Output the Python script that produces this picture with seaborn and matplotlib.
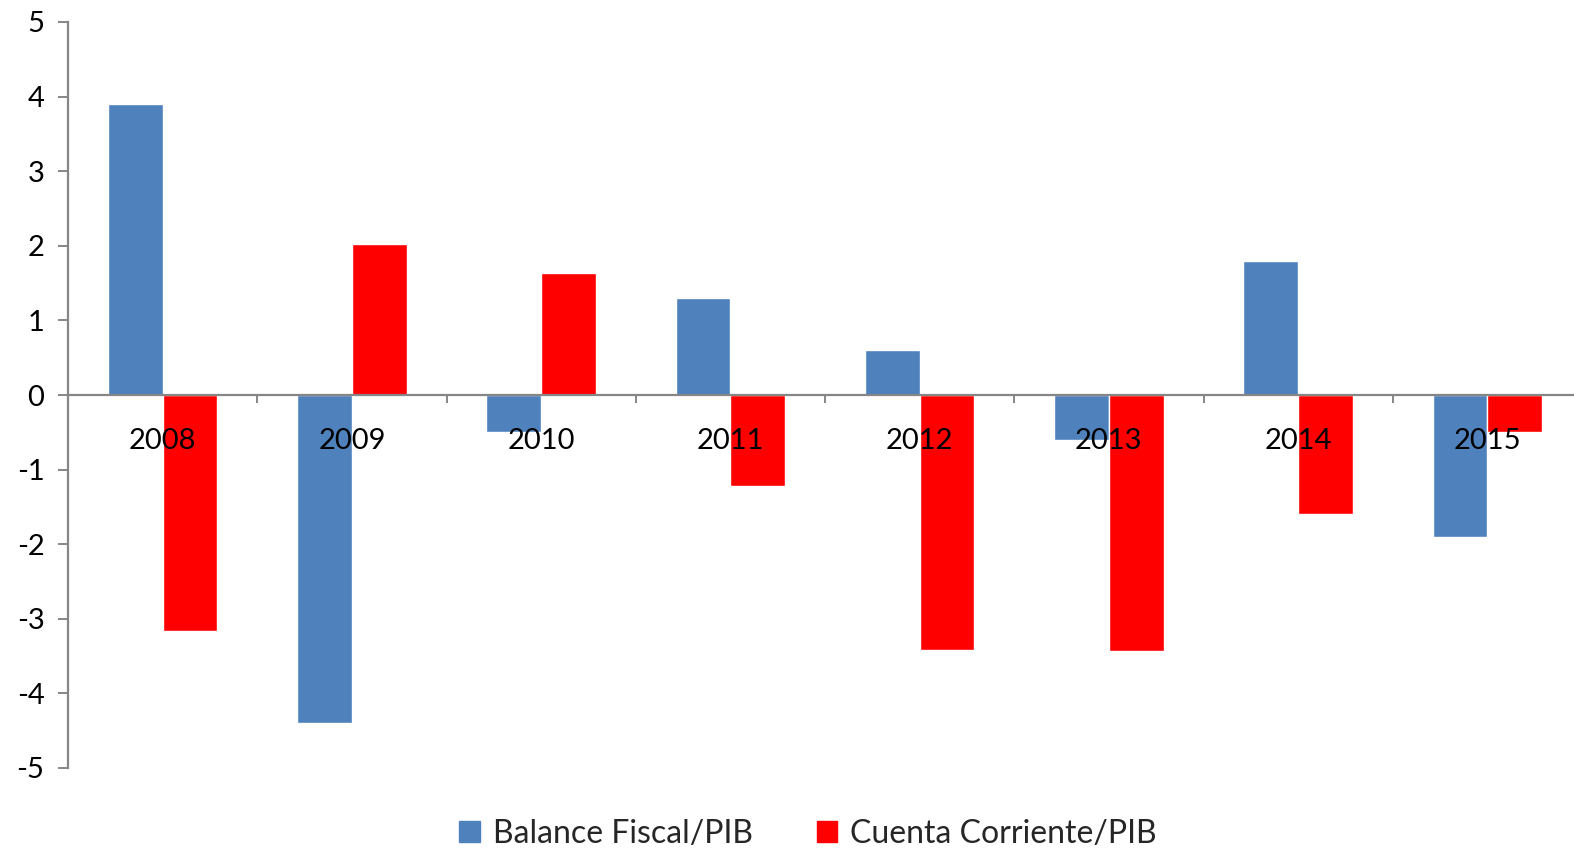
import matplotlib.pyplot as plt
import numpy as np
import pandas as pd
import seaborn as sns

sns.set_theme(style="white")
plt.rcParams["font.family"] = ["Lato", "DejaVu Sans"]
plt.rcParams["axes.unicode_minus"] = False

# Data (% of GDP)
years = ["2008", "2009", "2010", "2011", "2012", "2013", "2014", "2015"]
balance_fiscal = [3.9, -4.4, -0.5, 1.3, 0.6, -0.6, 1.8, -1.9]
cuenta_corriente = [-3.17, 2.03, 1.64, -1.22, -3.42, -3.43, -1.6, -0.5]
series_names = ["Balance Fiscal/PIB", "Cuenta Corriente/PIB"]
colors = ["#4F81BD", "#FF0000"]

df = pd.DataFrame({
    "year": years * 2,
    "value": balance_fiscal + cuenta_corriente,
    "series": [series_names[0]] * len(years) + [series_names[1]] * len(years),
})

fig = plt.figure(figsize=(15.74, 8.52), dpi=100)
ax = fig.add_axes([68 / 1574, 1 - 768 / 852, 1514 / 1574, 746 / 852])

sns.barplot(
    data=df, x="year", y="value", hue="series", palette=colors,
    saturation=1, width=0.578, ax=ax, legend=False,
)

axis_grey = "#868686"
ax.set_ylim(-5, 5)
ax.set_xlim(-0.5, 7.5)
ax.set_yticks(np.arange(-5, 6, 1))
ax.set_xlabel("")
ax.set_ylabel("")

# spines: y-axis at left, x-axis running through zero
ax.spines["top"].set_visible(False)
ax.spines["right"].set_visible(False)
ax.spines["bottom"].set_position(("data", 0))
for s in ["left", "bottom"]:
    ax.spines[s].set_color(axis_grey)
    ax.spines[s].set_linewidth(1.6)
ax.set_axisbelow(False)

ax.tick_params(axis="y", which="major", left=True, direction="out", length=7,
               width=1.4, color=axis_grey, labelsize=21, pad=10,
               labelcolor="black")
ax.tick_params(axis="x", which="major", bottom=False, pad=18, labelsize=21,
               labelcolor="black")
ax.set_xticks(np.arange(8, dtype=float) + 0.5, minor=True)
ax.tick_params(axis="x", which="minor", bottom=True, direction="out",
               length=6, width=1.4, color=axis_grey)

handles = [plt.Rectangle((0, 0), 1, 1, color=c) for c in colors]
fig.legend(handles, series_names, loc="center",
           bbox_to_anchor=(808 / 1574, 1 - 834 / 852), ncol=2, frameon=False,
           fontsize=23, handlelength=0.65, handleheight=0.65,
           handletextpad=0.4, columnspacing=2.0)

plt.savefig("out.png", dpi=100)
